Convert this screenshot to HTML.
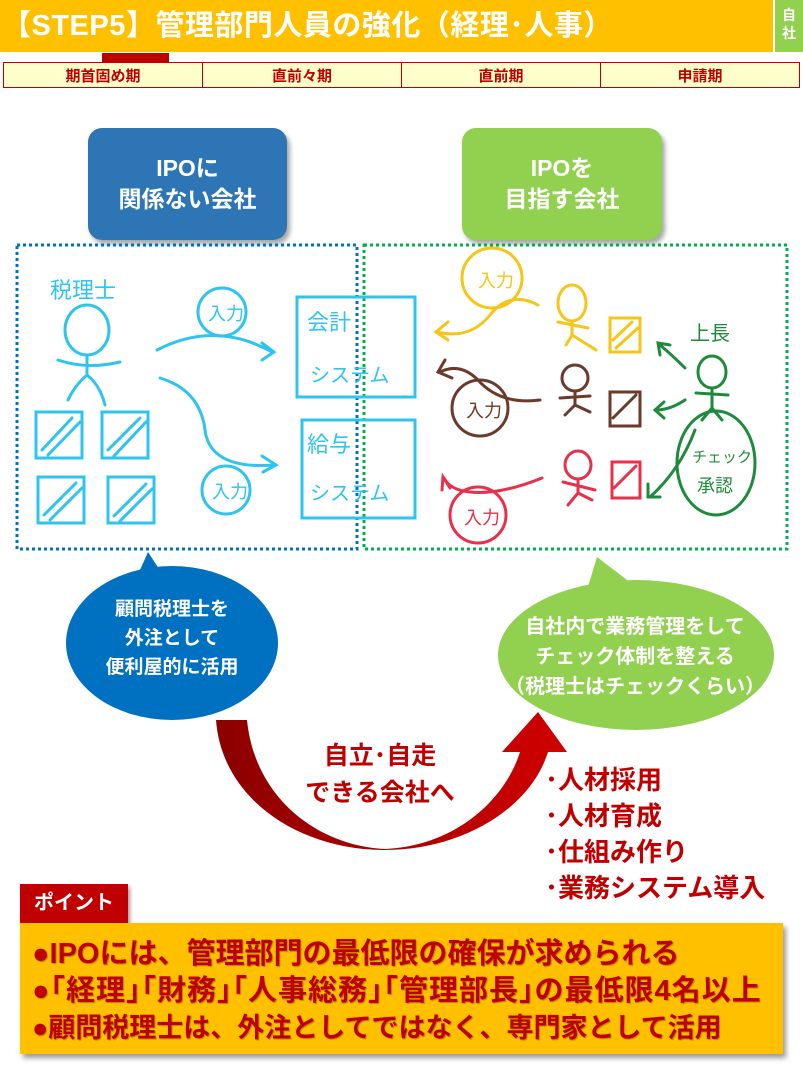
<!DOCTYPE html>
<html><head><meta charset="utf-8"><style>
body{margin:0;width:803px;height:1069px;position:relative;background:#fff;font-family:"Liberation Sans","Noto Sans CJK JP",sans-serif;overflow:hidden}
.a{position:absolute}
.hdr{left:0;top:0;width:773px;height:52px;background:#FFC000;color:#fff;font-weight:bold;font-size:29px;line-height:52px;padding-left:2px;box-sizing:border-box;letter-spacing:0.5px}
.jisha{left:775px;top:0;width:28px;height:52px;background:#92D050;color:#fff;font-weight:bold;font-size:14px;line-height:18px;text-align:center;padding-top:6px;box-sizing:border-box}
table{position:absolute;left:3px;top:62px;width:797px;height:26px;border-collapse:collapse;table-layout:fixed}
td{border:1.5px solid #C00000;background:#FFFFCC;color:#C00000;font-weight:bold;font-size:15px;text-align:center;padding:0}
.bx{border-radius:14px;color:#fff;font-weight:bold;font-size:23px;text-align:center;line-height:31px;box-shadow:3px 4px 5px rgba(0,0,0,.35);padding-top:25px;box-sizing:border-box}
.red{color:#C00000;font-weight:bold}
</style></head><body>
<div class="a hdr">【STEP5】管理部門人員の強化（経理･人事）</div>
<div class="a jisha">自<br>社</div>
<div class="a" style="left:102px;top:53px;width:67px;height:9px;background:#C00000"></div>
<table><tr><td>期首固め期</td><td>直前々期</td><td>直前期</td><td>申請期</td></tr></table>

<div class="a bx" style="left:88px;top:128px;width:199px;height:112px;background:#2E75B6">IPOに<br>関係ない会社</div>
<div class="a bx" style="left:462px;top:128px;width:200px;height:112px;background:#92D050">IPOを<br>目指す会社</div>

<svg class="a" style="left:0;top:0" width="803" height="1069" viewBox="0 0 803 1069">
<rect x="17" y="245" width="340" height="304" fill="none" stroke="#0070C0" stroke-width="3" stroke-dasharray="3,3"/>
<rect x="364" y="245" width="423" height="304" fill="none" stroke="#00B050" stroke-width="3" stroke-dasharray="3,3"/>
<g fill="none" stroke="#2EC4EE" stroke-width="3" stroke-linecap="round">
<ellipse cx="87" cy="330" rx="22" ry="25"/>
<path d="M87,355 V375 M58,360 Q87,370 120,362 M87,375 Q75,385 68,400 M87,375 Q100,385 105,405"/>
<rect x="36" y="412" width="46" height="46"/><rect x="102" y="412" width="46" height="46"/>
<rect x="38" y="477" width="46" height="46"/><rect x="108" y="477" width="46" height="46"/>
<path d="M42,450 L72,418 M48,455 L80,422 M108,450 L140,418 M114,456 L146,422 M44,515 L76,483 M50,520 L82,488 M114,516 L146,484 M120,521 L152,489"/>
<path d="M157,350 Q215,320 272,352 M262,343 L274,352 L262,360"/>
<circle cx="222" cy="312" r="24"/>
<path d="M160,378 Q200,390 205,430 Q210,470 275,465 M262,456 L276,465 L263,472"/>
<circle cx="226" cy="490" r="24"/>
<rect x="297" y="297" width="118" height="100"/>
<rect x="302" y="420" width="113" height="98"/>
</g>
<g font-family="Liberation Sans,Noto Sans CJK JP,sans-serif" fill="#2EC4EE" font-size="22">
<text x="50" y="298" font-size="22">税理士</text>
<text x="208" y="320" font-size="18">入力</text>
<text x="212" y="498" font-size="18">入力</text>
<text x="307" y="330">会計</text><text x="310" y="382" font-size="20">システム</text>
<text x="307" y="452">給与</text><text x="310" y="500" font-size="20">システム</text>
</g>
<g fill="none" stroke-width="3" stroke-linecap="round">
<g stroke="#F5C518"><circle cx="492" cy="278" r="30"/><path d="M538,305 Q510,290 490,315 Q470,340 437,332 M448,322 L436,332 L448,340"/><ellipse cx="572" cy="303" rx="14" ry="18"/><path d="M572,321 V335 M558,322 L588,328 M572,335 L566,345 M572,335 L596,350"/><rect x="610" y="318" width="30" height="34"/><path d="M613,340 L632,322 M616,348 L638,328"/></g>
<g stroke="#6B3A2A"><circle cx="480" cy="408" r="28"/><path d="M540,400 Q500,405 478,380 Q460,362 440,372 M445,360 L438,372 L452,378"/><ellipse cx="575" cy="378" rx="13" ry="13"/><path d="M575,391 V405 M560,398 L590,396 M575,405 L565,415 M575,405 L590,412"/><rect x="610" y="392" width="30" height="34"/><path d="M613,418 L636,395"/></g>
<g stroke="#E8304A"><circle cx="478" cy="515" r="28"/><path d="M542,478 Q500,495 470,492 Q450,490 444,478 M450,488 L443,477 L442,490"/><ellipse cx="578" cy="465" rx="13" ry="14"/><path d="M578,479 V493 M563,482 L595,490 M578,493 L568,505 M578,493 L592,500"/><rect x="612" y="462" width="28" height="36"/><path d="M614,488 L636,466"/></g>
<g stroke="#1E8A3C"><ellipse cx="712" cy="372" rx="14" ry="16"/><path d="M712,388 V408 M696,393 L728,395 M712,408 L702,420 M712,408 L722,420"/><path d="M685,368 Q672,355 660,345 M660,355 L658,343 L670,345 M685,400 Q670,410 656,410 M664,402 L655,410 L664,418 M695,430 Q680,470 650,497 M648,484 L648,497 L660,497"/><ellipse cx="716" cy="463" rx="39" ry="52"/></g>
</g>
<g font-family="Liberation Sans,Noto Sans CJK JP,sans-serif" font-size="18">
<text x="478" y="287" fill="#F5C518">入力</text>
<text x="466" y="417" fill="#6B3A2A">入力</text>
<text x="464" y="524" fill="#E8304A">入力</text>
<text x="690" y="340" fill="#1E8A3C" font-size="20">上長</text>
<text x="692" y="462" fill="#1E8A3C" font-size="15">チェック</text>
<text x="697" y="492" fill="#1E8A3C" font-size="18">承認</text>
</g>
<path d="M132,588 L148,552 L163,575 Z" fill="#0070C0"/>
<ellipse cx="172" cy="643" rx="106" ry="77" fill="#0070C0"/>
<path d="M587,590 L597,557 L640,590 Z" fill="#92D050"/>
<ellipse cx="636" cy="655" rx="138" ry="75" fill="#92D050"/>
<defs><linearGradient id="g" x1="0" x2="1"><stop offset="0" stop-color="#8B0000"/><stop offset="1" stop-color="#D00000"/></linearGradient></defs>
<path d="M216,720 C222,800 300,850 385,850 C460,850 530,810 548,752 L567,752 L538,712 L502,752 L520,752 C505,800 455,846 385,849 C320,846 255,800 247,720 Z" fill="url(#g)"/>
</svg>

<div class="a" style="left:62px;top:595px;width:220px;text-align:center;color:#fff;font-weight:bold;font-size:19px;line-height:29px">顧問税理士を<br>外注として<br>便利屋的に活用</div>
<div class="a" style="left:495px;top:612px;width:280px;text-align:center;color:#fff;font-weight:bold;font-size:20px;line-height:30px">自社内で業務管理をして<br>チェック体制を整える<br>（税理士はチェックくらい）</div>
<div class="a red" style="left:295px;top:738px;width:170px;font-size:25px;line-height:37px;text-align:center">自立･自走<br>できる会社へ</div>
<div class="a red" style="left:545px;top:762px;font-size:26px;line-height:36px">･人材採用<br>･人材育成<br>･仕組み作り<br>･業務システム導入</div>
<div class="a" style="left:20px;top:884px;width:108px;height:39px;background:#C00000;color:#fff;font-weight:bold;font-size:20px;line-height:39px;text-align:center;box-shadow:2px 3px 4px rgba(0,0,0,.4)">ポイント</div>
<div class="a red" style="left:20px;top:923px;width:763px;height:131px;background:#FFC000;box-shadow:3px 4px 5px rgba(0,0,0,.4);font-size:29px;line-height:37px;padding:13px 0 0 12px;box-sizing:border-box;text-shadow:1px 1px 1px rgba(0,0,0,.3);white-space:nowrap">●IPOには、管理部門の最低限の確保が求められる<br><span style="letter-spacing:1px">●｢経理｣｢財務｣｢人事総務｣｢管理部長｣の最低限4名以上</span><br><span style="font-size:27px">●顧問税理士は、外注としてではなく、専門家として活用</span></div>
</body></html>
